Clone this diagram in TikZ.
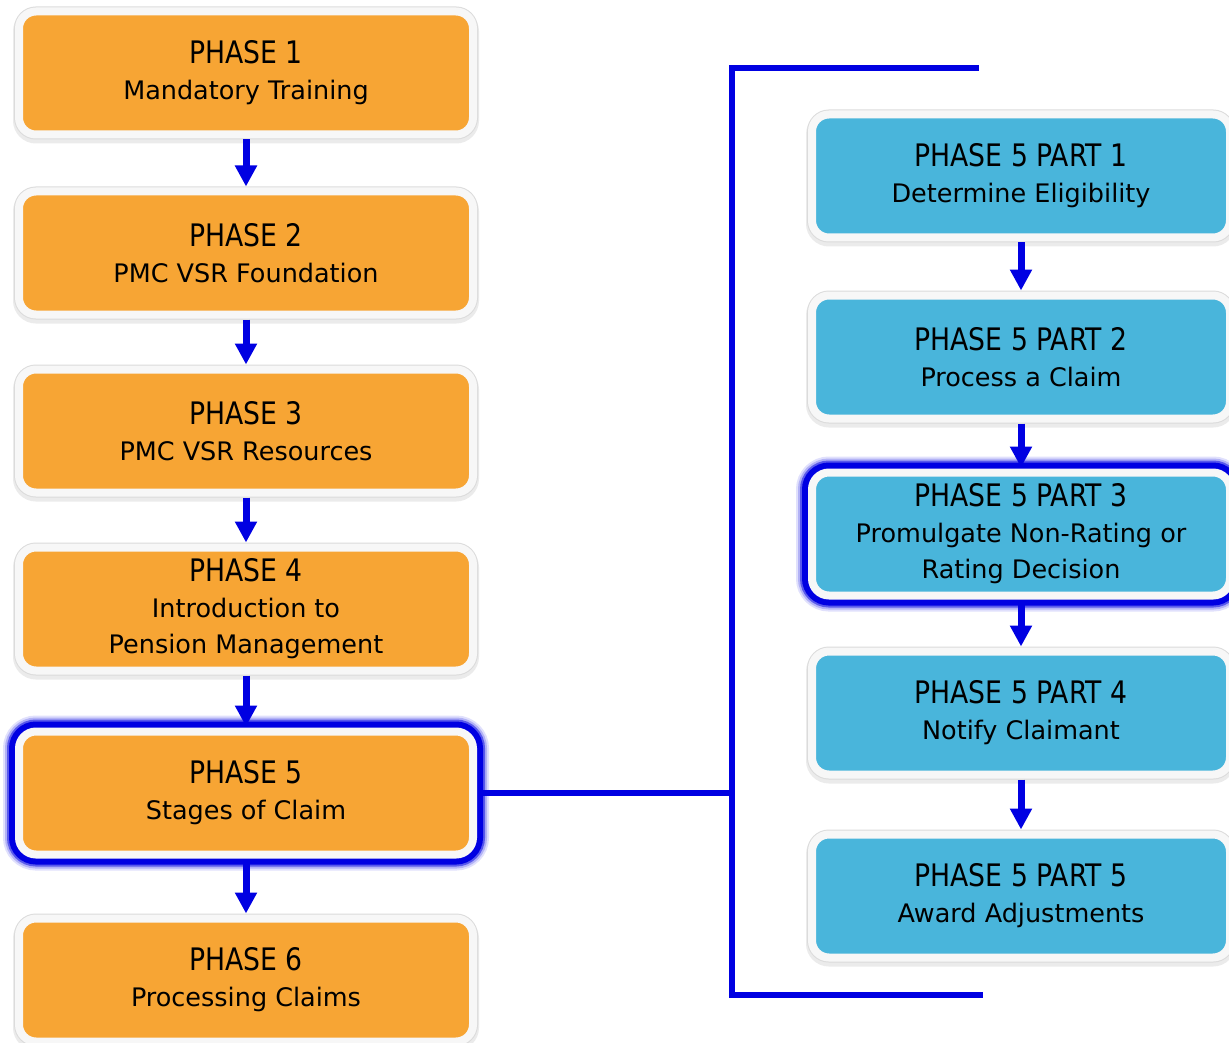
\documentclass[tikz,border=0pt]{standalone}
\usepackage{fontspec}
\setmainfont{DejaVu Sans}
\newfontfamily\headfamily[FakeStretch=0.86]{DejaVu Sans}
\usetikzlibrary{positioning,arrows.meta}

\definecolor{phaseorange}{RGB}{247,165,52}
\definecolor{partblue}{RGB}{73,181,219}
\definecolor{lineblue}{RGB}{0,0,226}
\definecolor{rimwhite}{RGB}{247,247,247}
\newcommand\headfont{\headfamily\fontsize{31}{36}\selectfont}
\newcommand\subfont{\fontsize{25.5}{36}\selectfont}

\begin{document}
\begin{tikzpicture}[x=1pt,y=-1pt,>={Triangle[width=21pt,length=21pt]},
    box/.style={shape=rectangle,rounded corners=17pt,draw=rimwhite,line width=8pt,
        align=center,font=\subfont,text=black,outer sep=5pt,minimum height=123pt,
        preaction={draw=black!8,line width=12pt,transform canvas={yshift=-3pt}},
        preaction={draw=black!14,line width=10pt}},
    phasebox/.style={box,fill=phaseorange,minimum width=454pt},
    partbox/.style={box,fill=partblue,minimum width=418pt},
    current/.style={preaction={draw=lineblue!12,line width=32pt},
        preaction={draw=lineblue!30,line width=28pt},
        preaction={draw=lineblue!65,line width=24pt},
        preaction={draw=lineblue,line width=20pt}},
    flow/.style={->,draw=lineblue,line width=7pt},
    bracket/.style={draw=lineblue,line width=6pt}]
    \useasboundingbox (0,0) rectangle (1229,1043);
    % create the nodes
    \node (ph1) [phasebox] at (246,73) {{\headfont PHASE 1}\\Mandatory Training};
    \node (ph2) [phasebox,below=47pt of ph1] {{\headfont PHASE 2}\\PMC VSR Foundation};
    \node (ph3) [phasebox,below=45pt of ph2] {{\headfont PHASE 3}\\PMC VSR Resources};
    \node (ph4) [phasebox,below=45pt of ph3] {{\headfont PHASE 4}\\Introduction to\\Pension Management};
    \node (ph5) [phasebox,current,below=51pt of ph4] {{\headfont PHASE 5}\\Stages of Claim};
    \node (ph6) [phasebox,below=54pt of ph5] {{\headfont PHASE 6}\\Processing Claims};
    \node (part1) [partbox] at (1021,176) {{\headfont PHASE 5 PART 1}\\Determine Eligibility};
    \node (part2) [partbox,below=48pt of part1] {{\headfont PHASE 5 PART 2}\\Process a Claim};
    \node (part3) [partbox,current,below=44pt of part2] {{\headfont PHASE 5 PART 3}\\Promulgate Non-Rating or\\Rating Decision};
    \node (part4) [partbox,below=46pt of part3] {{\headfont PHASE 5 PART 4}\\Notify Claimant};
    \node (part5) [partbox,below=50pt of part4] {{\headfont PHASE 5 PART 5}\\Award Adjustments};
    % bracket corners
    \coordinate (brtop) at (979,68);
    \coordinate (brtl) at (732,68);
    \coordinate (brbl) at (732,995);
    \coordinate (brbot) at (983,995);
    % connect the nodes
    \draw[flow] (ph1) -- (ph2);
    \draw[flow] (ph2) -- (ph3);
    \draw[flow] (ph3) -- (ph4);
    \draw[flow] (ph4) -- (ph5);
    \draw[flow] (ph5) -- (ph6);
    \draw[flow] (part1) -- (part2);
    \draw[flow] (part2) -- (part3);
    \draw[flow] (part3) -- (part4);
    \draw[flow] (part4) -- (part5);
    \draw[bracket] (brtop) -- (brtl) -- (brbl) -- (brbot);
    \draw[bracket] (ph5.east) -- (ph5.east -| brtl);
\end{tikzpicture}
\end{document}
